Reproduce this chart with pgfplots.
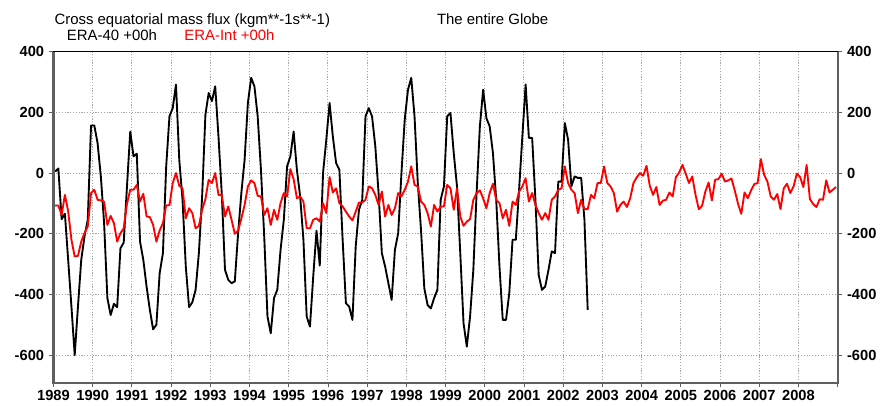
\documentclass[border=0pt]{standalone}
\usepackage{pgfplots}
\usepackage{pgfplotstable}
\pgfplotsset{compat=1.18}
\usepackage{fontspec}
\setmainfont{Liberation Sans}
\definecolor{spine}{RGB}{95,95,95}
\definecolor{gridc}{RGB}{165,165,165}

\pgfplotstableread{
v
5
15
-152
-134
-286
-440
-600
-440
-286
-209
-154
157
157
99
-11
-165
-412
-468
-431
-442
-248
-229
-44
137
55
64
-226
-286
-374
-451
-515
-500
-330
-264
22
187
214
292
44
-88
-308
-442
-426
-385
-264
-77
192
264
237
286
121
-66
-319
-352
-363
-357
-200
-66
44
231
314
286
187
11
-209
-473
-528
-412
-385
-253
-154
22
55
137
11
-77
-220
-473
-506
-341
-190
-305
0
110
231
121
33
11
-220
-429
-440
-484
-242
-121
-88
187
214
187
88
-66
-264
-308
-363
-418
-253
-198
0
176
275
314
187
-33
-190
-380
-435
-446
-412
-385
-88
-44
187
198
66
-44
-264
-495
-572
-473
-319
-66
154
275
181
154
66
-88
-308
-484
-484
-396
-220
-220
-55
121
292
116
116
-88
-336
-385
-374
-319
-258
-264
-28
-28
165
110
-44
-11
-16
-16
-154
-451
}\eraforty

\pgfplotstableread{
v
-107
-107
-138
-72
-126
-220
-275
-273
-226
-198
-176
-66
-55
-88
-90
-94
-171
-141
-165
-226
-198
-182
-101
-55
-55
-39
-94
-68
-143
-145
-171
-226
-189
-165
-106
-106
-33
0
-42
-50
-149
-116
-132
-182
-174
-121
-86
-22
-33
0
-72
-72
-143
-110
-154
-200
-190
-150
-105
-44
-24
-33
-75
-77
-138
-116
-171
-121
-154
-99
-66
-77
13
-20
-83
-77
-94
-182
-182
-154
-149
-160
-99
-132
-13
-64
-50
-99
-110
-127
-143
-156
-127
-97
-97
-88
-44
-50
-72
-105
-61
-143
-105
-138
-116
-66
-77
-55
-28
22
-39
-44
-94
-105
-132
-176
-105
-127
-110
-110
-39
-50
-121
-50
-143
-174
-160
-152
-88
-66
-57
-83
-116
-66
-35
-88
-99
-149
-121
-174
-94
-105
-61
-44
-17
-94
-66
-105
-132
-154
-132
-154
-88
-77
-55
-50
22
-33
-55
-66
-132
-88
-119
-119
-72
-83
-33
-33
22
-33
-44
-66
-127
-105
-94
-112
-83
-33
-14
0
-9
24
-42
-72
-46
-105
-91
-88
-64
-77
-13
2
27
-2
-33
-11
-72
-119
-108
-61
-31
-90
-22
-20
-2
-28
-24
-18
-57
-101
-134
-64
-83
-57
-36
-33
46
-6
-28
-77
-88
-69
-119
-50
-35
-66
-44
-2
-13
-46
27
-86
-102
-112
-86
-88
-24
-64
-55
-46
}\eraint

\begin{document}
\begin{tikzpicture}
\pgfplotsset{
  common/.style={
    scale only axis, width=588.2pt, height=248.25pt,
    xmin=0, xmax=240, ymin=-691, ymax=400,
    ytick={-600,-400,-200,0,200,400},
    /pgf/number format/assume math mode=true,
    tick label style={font=\fontsize{11}{13}\selectfont\bfseries},
    tick align=outside,
    major tick length=3.5pt,
    tick style={spine, line width=0.6pt},
    axis line style={draw=none},
    clip=false,
  }
}
\begin{axis}[common,
  xtick={0,12,...,228},
  xticklabels={1989,1990,1991,1992,1993,1994,1995,1996,1997,1998,1999,2000,2001,2002,2003,2004,2005,2006,2007,2008},
  extra x ticks={240},
  extra x tick labels={},
  extra x tick style={grid=none},
  xtick pos=bottom,
  ytick pos=left,
  xticklabel style={yshift=1pt},
  grid=major,
  major grid style={gridc, line width=0.75pt, dash pattern=on 0.8pt off 1.3pt},
]
\addplot[black, line width=1.4pt, line join=round] table[x expr=\coordindex+0.5, y=v] {\eraforty};
\addplot[red, line width=1.4pt, line join=round] table[x expr=\coordindex+0.5, y=v] {\eraint};
\draw[black, line width=0.6pt] (rel axis cs:0,1) -- (rel axis cs:1,1);
\draw[spine, line width=1.6pt] (rel axis cs:0,1) -- (rel axis cs:0,0) -- (rel axis cs:1,0) -- (rel axis cs:1,1);
\node[anchor=base west, inner sep=0pt, font=\fontsize{11.2}{13}\selectfont] at ([xshift=0.6pt,yshift=20.3pt]rel axis cs:0,1) {Cross equatorial mass flux (kgm**-1s**-1)};
\node[anchor=base west, inner sep=0pt, font=\fontsize{11.2}{13}\selectfont] at ([xshift=287.5pt,yshift=20.3pt]rel axis cs:0,1) {The entire Globe};
\node[anchor=base west, inner sep=0pt, font=\fontsize{11.2}{13}\selectfont] at ([xshift=9.9pt,yshift=8.6pt]rel axis cs:0,1) {ERA-40 +00h};
\node[anchor=base west, inner sep=0pt, red, font=\fontsize{11.2}{13}\selectfont] at ([xshift=98pt,yshift=8.6pt]rel axis cs:0,1) {ERA-Int +00h};
\end{axis}
\begin{axis}[common,
  hide x axis,
  axis y line*=right,
  ytick pos=right,
  yticklabel pos=right,
]
\end{axis}
\path ([shift={(-40.1pt,-15.2pt)}]current axis.south west) rectangle ([shift={(38.5pt,38.8pt)}]current axis.north east);
\end{tikzpicture}
\end{document}
